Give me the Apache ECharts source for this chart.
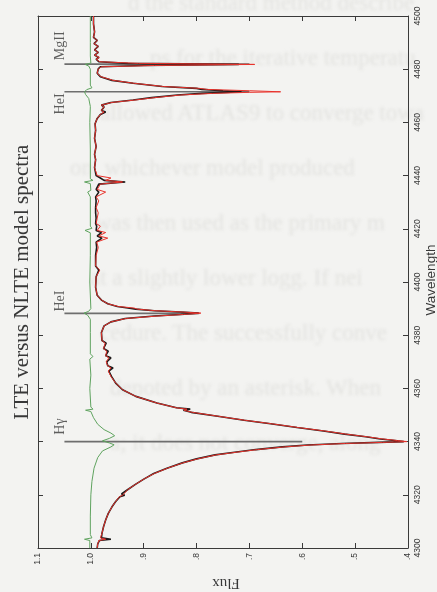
<!DOCTYPE html>
<html>
<head>
<meta charset="utf-8">
<title>LTE versus NLTE model spectra</title>
<script src="https://cdn.jsdelivr.net/npm/echarts@6/dist/echarts.min.js"></script>
<style>
  html, body { margin: 0; padding: 0; background: #f3f3f1; }
  #page { position: relative; width: 437px; height: 592px; overflow: hidden; }
  #ghost { position: absolute; left: 0; top: 0; width: 437px; height: 592px;
           color: #e3e3e0; font-family: "Liberation Serif", serif; font-size: 23px;
           white-space: nowrap; filter: blur(1.5px); }
  #ghost div { position: absolute; }
  #chart { position: absolute; left: 0; top: 0; width: 437px; height: 592px; }
</style>
</head>
<body>
<div id="page">
  <div id="ghost"></div>
  <div id="chart"></div>
</div>
<script>
// Synthetic spectra around H-gamma: wavelength grid (Angstrom) shared by both models
const wavelength = [
  4300.0, 4301.5, 4302.8, 4303.3, 4303.8, 4305.5, 4308.0, 4310.5, 4313.0, 4315.5,
  4317.5, 4319.3, 4319.8, 4320.3, 4322.0, 4324.0, 4326.0, 4328.0, 4330.0, 4332.0,
  4333.5, 4335.0, 4336.0, 4337.0, 4338.0, 4338.7, 4339.3, 4339.7, 4340.0, 4340.4,
  4341.0, 4341.8, 4342.8, 4344.0, 4345.3, 4346.7, 4348.0, 4349.5, 4351.0, 4351.8,
  4352.2, 4352.7, 4354.5, 4357.0, 4359.5, 4362.0, 4364.5, 4366.5, 4367.7, 4368.5,
  4370.0, 4371.5, 4372.3, 4374.0, 4375.0, 4377.0, 4378.0, 4381.0, 4383.5, 4385.0,
  4386.3, 4387.2, 4387.8, 4388.3, 4388.7, 4389.2, 4389.8, 4390.2, 4390.8, 4391.8,
  4393.2, 4395.0, 4398.0, 4402.0, 4404.5, 4406.0, 4410.0, 4413.0, 4415.0, 4416.5,
  4417.3, 4418.6, 4419.4, 4421.0, 4422.0, 4424.0, 4426.0, 4428.0, 4430.5, 4432.0,
  4433.8, 4434.8, 4436.8, 4437.6, 4438.2, 4439.1, 4440.0, 4443.0, 4446.0, 4448.0,
  4451.0, 4454.0, 4457.0, 4459.5, 4461.5, 4463.0, 4463.9, 4464.5, 4465.8, 4466.5,
  4467.5, 4468.4, 4469.3, 4470.3, 4470.9, 4471.3, 4471.5, 4471.9, 4472.4, 4472.8,
  4473.5, 4474.7, 4475.8, 4477.2, 4478.5, 4480.1, 4480.9, 4481.4, 4481.8, 4482.2,
  4482.8, 4483.8, 4484.4, 4485.3, 4486.3, 4487.3, 4488.6, 4489.6, 4490.8, 4492.0,
  4494.0, 4497.0, 4500.0
];

// Normalised flux, LTE model
const fluxLTE = [
  0.988, 0.987, 0.984, 0.962, 0.980, 0.979, 0.976, 0.972, 0.967, 0.960,
  0.953, 0.945, 0.936, 0.942, 0.930, 0.915, 0.899, 0.881, 0.856, 0.827,
  0.800, 0.765, 0.728, 0.688, 0.638, 0.590, 0.525, 0.455, 0.408, 0.425,
  0.452, 0.480, 0.520, 0.560, 0.610, 0.660, 0.710, 0.760, 0.810, 0.825,
  0.812, 0.838, 0.875, 0.915, 0.940, 0.953, 0.961, 0.966, 0.958, 0.968,
  0.970, 0.962, 0.972, 0.967, 0.976, 0.971, 0.979, 0.980, 0.975, 0.962,
  0.935, 0.880, 0.830, 0.796, 0.830, 0.880, 0.915, 0.930, 0.950, 0.968,
  0.980, 0.988, 0.991, 0.990, 0.985, 0.991, 0.991, 0.989, 0.990, 0.979,
  0.988, 0.980, 0.990, 0.989, 0.991, 0.990, 0.991, 0.991, 0.990, 0.991,
  0.985, 0.990, 0.985, 0.935, 0.975, 0.982, 0.990, 0.993, 0.991, 0.993,
  0.990, 0.993, 0.991, 0.992, 0.988, 0.982, 0.972, 0.980, 0.975, 0.980,
  0.962, 0.920, 0.885, 0.836, 0.790, 0.745, 0.715, 0.750, 0.790, 0.800,
  0.865, 0.920, 0.960, 0.982, 0.988, 0.986, 0.982, 0.900, 0.720, 0.930,
  0.985, 0.990, 0.985, 0.993, 0.986, 0.993, 0.986, 0.994, 0.988, 0.995,
  0.993, 0.995, 0.995
];

// Normalised flux, NLTE model
const fluxNLTE = [
  0.988, 0.987, 0.985, 0.972, 0.982, 0.979, 0.976, 0.972, 0.967, 0.960,
  0.953, 0.946, 0.940, 0.943, 0.930, 0.915, 0.899, 0.880, 0.855, 0.826,
  0.798, 0.763, 0.725, 0.685, 0.634, 0.585, 0.518, 0.448, 0.402, 0.420,
  0.448, 0.477, 0.517, 0.558, 0.608, 0.658, 0.708, 0.758, 0.808, 0.824,
  0.818, 0.838, 0.875, 0.915, 0.940, 0.953, 0.962, 0.967, 0.962, 0.968,
  0.971, 0.966, 0.972, 0.970, 0.976, 0.973, 0.979, 0.980, 0.975, 0.962,
  0.933, 0.875, 0.825, 0.792, 0.826, 0.878, 0.912, 0.918, 0.948, 0.968,
  0.980, 0.988, 0.991, 0.990, 0.983, 0.991, 0.990, 0.986, 0.989, 0.968,
  0.985, 0.972, 0.988, 0.982, 0.990, 0.988, 0.986, 0.990, 0.985, 0.990,
  0.972, 0.988, 0.982, 0.940, 0.972, 0.962, 0.988, 0.993, 0.991, 0.993,
  0.990, 0.993, 0.991, 0.992, 0.988, 0.982, 0.975, 0.980, 0.975, 0.980,
  0.960, 0.917, 0.880, 0.830, 0.770, 0.700, 0.641, 0.700, 0.780, 0.795,
  0.863, 0.918, 0.958, 0.981, 0.988, 0.986, 0.980, 0.880, 0.690, 0.910,
  0.983, 0.990, 0.984, 0.993, 0.986, 0.993, 0.986, 0.994, 0.988, 0.995,
  0.993, 0.995, 0.995
];

// Third curve (green), near unity
const greenWave = [
  4300.0, 4302.8, 4303.3, 4303.8, 4305.0, 4312.0, 4320.0, 4325.0, 4330.0, 4334.0,
  4336.5, 4338.0, 4338.8, 4339.5, 4340.3, 4341.2, 4342.2, 4343.2, 4344.5, 4346.5,
  4349.0, 4351.3, 4351.8, 4352.2, 4353.0, 4360.0, 4365.0, 4371.0, 4372.0, 4373.0,
  4381.0, 4386.0, 4387.5, 4388.3, 4389.0, 4390.0, 4400.0, 4410.0, 4418.5, 4419.4,
  4420.2, 4421.0, 4432.0, 4433.8, 4434.5, 4437.0, 4437.6, 4438.2, 4438.8, 4450.0,
  4460.0, 4466.0, 4469.0, 4470.5, 4471.5, 4472.3, 4473.0, 4474.0, 4480.0, 4481.2,
  4481.8, 4482.3, 4485.0, 4490.0, 4500.0
];
const greenFlux = [
  1.002, 1.002, 1.012, 0.998, 1.001, 1.001, 1.000, 0.998, 0.994, 0.987,
  0.978, 0.962, 0.956, 0.965, 0.978, 0.965, 0.955, 0.962, 0.975, 0.987,
  0.995, 1.000, 1.010, 0.996, 1.000, 1.002, 1.000, 1.002, 0.996, 1.001,
  1.001, 1.001, 1.006, 1.013, 1.004, 1.000, 1.002, 1.001, 1.001, 1.011,
  0.998, 1.001, 1.001, 1.006, 1.000, 1.001, 1.012, 0.996, 1.001, 1.001,
  1.002, 1.001, 1.004, 1.010, 1.012, 1.008, 0.998, 1.001, 1.001, 1.004,
  1.011, 1.000, 1.001, 1.001, 1.001
];

// Line identifications
const lineNames = ['H\u03b3', 'HeI', 'HeI', 'MgII'];
const lineWave  = [4340.0, 4388.2, 4471.5, 4481.9];
const lineTop   = [1.05, 1.05, 1.05, 1.05];
const lineEnd   = [0.60, 0.795, 0.70, 0.70];

// Flux axis tick labels
const fluxTicks      = [0.4, 0.5, 0.6, 0.7, 0.8, 0.9, 1.0, 1.1];
const fluxTickLabels = ['.4', '.5', '.6', '.7', '.8', '.9', '1.0', '1.1'];

// Faint show-through text of the facing page
const ghostLines = [
  'd the standard method describe',
  'ps for the iterative temperatu',
  'allowed ATLAS9 to converge towa',
  'on, whichever model produced',
  'was then used as the primary m',
  'at a slightly lower logg. If nei',
  'cedure. The successfully conve',
  'denoted by an asterisk. When',
  'a; it does not converge, along'
];
const ghostLeft = [128, 150, 100, 70, 95, 90, 100, 110, 110];

const ghost = document.getElementById('ghost');
ghostLines.forEach((t, i) => {
  const d = document.createElement('div');
  d.textContent = t;
  d.style.left = ghostLeft[i] + 'px';
  d.style.top = (-10 + i * 55) + 'px';
  ghost.appendChild(d);
});

// layout/style settings for the identification labels
const labelShift = [2.6, 0.7, -0.6, 1.5];
const labelAlign = ['left', 'left', 'right', 'left'];

const axisColor = '#3a3a3a';
const textColor = '#383838';
const serif = '"Liberation Serif", "DejaVu Serif", serif';
const sans = '"Liberation Sans", Arial, sans-serif';

function fluxLabel(v) {
  const i = fluxTicks.findIndex(t => Math.abs(t - v) < 1e-6);
  return i >= 0 ? fluxTickLabels[i] : '';
}

const boxAxis = {
  axisLine: { show: true, onZero: false, lineStyle: { color: axisColor, width: 1 } },
  axisTick: { show: true, inside: true, length: 5, lineStyle: { color: axisColor, width: 1 } },
  splitLine: { show: false }
};

const series = [];

// identification markers
lineWave.forEach((w, i) => {
  series.push({
    type: 'line', xAxisIndex: 0, yAxisIndex: 0, silent: true,
    showSymbol: false, symbol: 'none',
    lineStyle: { color: '#6e6e6e', width: 1.6 },
    data: [[lineTop[i], w], [lineEnd[i], w]],
    z: 2
  });
});

series.push({
  type: 'scatter', xAxisIndex: 0, yAxisIndex: 0, silent: true,
  symbolSize: 0,
  data: lineNames.map((n, i) => ({
    value: [1.058, lineWave[i] + labelShift[i]],
    name: n,
    label: { align: labelAlign[i] }
  })),
  label: {
    show: true, position: 'inside', rotate: 90,
    formatter: p => p.name,
    fontFamily: serif, fontSize: 14, color: textColor,
    verticalAlign: 'middle'
  },
  z: 6
});

series.push({
  type: 'line', name: 'LTE', xAxisIndex: 0, yAxisIndex: 0,
  showSymbol: false, symbol: 'none', silent: true,
  lineStyle: { color: '#1e1a1a', width: 1.6 },
  data: wavelength.map((w, i) => [fluxLTE[i], w]),
  z: 3
});
series.push({
  type: 'line', name: 'NLTE', xAxisIndex: 0, yAxisIndex: 0,
  showSymbol: false, symbol: 'none', silent: true,
  lineStyle: { color: '#e8332c', width: 1 },
  data: wavelength.map((w, i) => [fluxNLTE[i], w]),
  z: 4
});
series.push({
  type: 'line', name: 'ratio', xAxisIndex: 0, yAxisIndex: 0,
  showSymbol: false, symbol: 'none', silent: true,
  lineStyle: { color: '#5fa35f', width: 1 },
  data: greenWave.map((w, i) => [greenFlux[i], w]),
  z: 5
});

const chart = echarts.init(document.getElementById('chart'), null, { renderer: 'canvas' });
chart.setOption({
  animation: false,
  backgroundColor: 'transparent',
  grid: { left: 38, right: 29, top: 16, bottom: 44, containLabel: false },
  xAxis: [
    Object.assign({
      type: 'value', position: 'bottom', min: 0.4, max: 1.1, interval: 0.1, inverse: true,
      axisLabel: { rotate: 90, fontSize: 8.5, fontFamily: sans, color: textColor, margin: 5,
                   formatter: fluxLabel }
    }, boxAxis),
    Object.assign({
      type: 'value', position: 'top', min: 0.4, max: 1.1, interval: 0.1, inverse: true,
      axisLabel: { show: false }
    }, boxAxis)
  ],
  yAxis: [
    Object.assign({
      type: 'value', position: 'right', min: 4300, max: 4500, interval: 20,
      axisLabel: { rotate: 90, fontSize: 8.5, fontFamily: sans, color: textColor, margin: 5,
                   formatter: v => String(v) }
    }, boxAxis),
    Object.assign({
      type: 'value', position: 'left', min: 4300, max: 4500, interval: 20,
      axisLabel: { show: false }
    }, boxAxis)
  ],
  graphic: [
    {
      type: 'text', x: 22, y: 282, rotation: Math.PI / 2,
      style: {
        text: 'LTE versus NLTE model spectra',
        font: '21px ' + serif, fill: textColor,
        align: 'center', verticalAlign: 'middle'
      }
    },
    {
      type: 'text', x: 431, y: 280, rotation: Math.PI / 2,
      style: {
        text: 'Wavelength',
        font: '13.5px ' + sans, fill: textColor,
        align: 'center', verticalAlign: 'middle'
      }
    },
    {
      type: 'text', x: 226, y: 583, rotation: Math.PI,
      style: {
        text: 'Flux',
        font: '15px ' + serif, fill: textColor,
        align: 'center', verticalAlign: 'middle'
      }
    }
  ],
  series: series
});
</script>
</body>
</html>
